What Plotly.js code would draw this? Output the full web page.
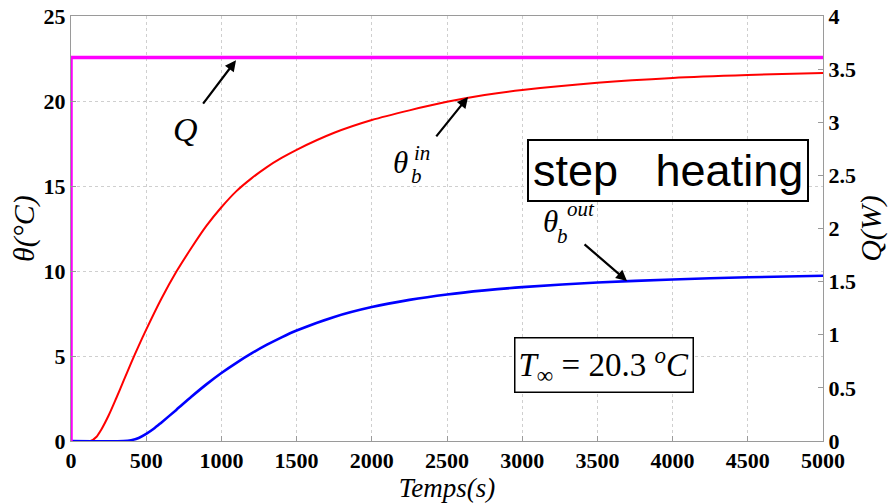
<!DOCTYPE html>
<html>
<head>
<meta charset="utf-8">
<script src="https://cdn.plot.ly/plotly-3.0.1.min.js"></script>
<style>html,body{margin:0;padding:0;background:#fff;}#chart{width:888px;height:504px;}</style>
</head>
<body>
<div id="chart"></div>
<script>
// Data
const time_in   = [0, 130, 170, 200, 250, 300, 350, 400, 450, 500, 600, 700, 800, 900, 1000, 1100, 1200, 1300, 1400, 1500, 1750, 2000, 2250, 2500, 2750, 3000, 3500, 4000, 4500, 5000];
const theta_in  = [0, 0, 0.25, 0.65, 1.5, 2.5, 3.55, 4.6, 5.6, 6.55, 8.35, 9.95, 11.35, 12.65, 13.75, 14.7, 15.45, 16.1, 16.65, 17.13, 18.13, 18.88, 19.45, 19.95, 20.35, 20.65, 21.08, 21.36, 21.53, 21.65];
const time_out  = [0, 350, 400, 450, 500, 550, 600, 700, 800, 900, 1000, 1100, 1200, 1300, 1400, 1500, 1750, 2000, 2250, 2500, 2750, 3000, 3500, 4000, 4500, 5000];
const theta_out = [0, 0, 0.05, 0.18, 0.42, 0.72, 1.08, 1.83, 2.6, 3.33, 4.0, 4.6, 5.15, 5.65, 6.1, 6.5, 7.3, 7.88, 8.3, 8.62, 8.86, 9.05, 9.32, 9.5, 9.63, 9.72];
const q_time    = [0, 0, 5000];
const q_value   = [0, 3.61, 3.61];
const x_ticks   = [0, 500, 1000, 1500, 2000, 2500, 3000, 3500, 4000, 4500, 5000];
const y_ticks   = [0, 5, 10, 15, 20, 25];
const q_ticks   = [0, 0.5, 1, 1.5, 2, 2.5, 3, 3.5, 4];

const SERIF = '"Times New Roman", "Liberation Serif", "DejaVu Serif", serif';
const tickFont = {family: SERIF, size: 22, color: '#000'};
const mathBig = {family: SERIF, size: 31, color: '#000', style: 'italic'};
const mathSmall = {family: SERIF, size: 21, color: '#000', style: 'italic'};
const bold = v => '<b>' + v + '</b>';

const traces = [
  {x: q_time, y: q_value, yaxis: 'y2', mode: 'lines', line: {color: '#ff00ff', width: 3.5}, cliponaxis: false, showlegend: false},
  {x: time_in, y: theta_in, mode: 'lines', line: {color: '#ff0000', width: 2, shape: 'spline', smoothing: 0.8}, showlegend: false},
  {x: time_out, y: theta_out, mode: 'lines', line: {color: '#0000ff', width: 2.6, shape: 'spline', smoothing: 0.8}, showlegend: false}
];

function ann(x, y, text, font) {
  return {x: x, y: y, xref: 'x', yref: 'y', text: text, showarrow: false, font: font};
}
function arrow(x, y, ax, ay) {
  return {x: x, y: y, xref: 'x', yref: 'y', text: '', showarrow: true, ax: ax, ay: ay,
          arrowhead: 2, arrowsize: 1, arrowwidth: 2.2, arrowcolor: '#000'};
}

const layout = {
  width: 888, height: 504,
  margin: {l: 71, r: 65, t: 16, b: 63},
  paper_bgcolor: '#fff', plot_bgcolor: '#fff',
  showlegend: false,
  xaxis: {
    range: [0, 5000], tickvals: x_ticks, ticktext: x_ticks.map(bold),
    showline: true, linecolor: '#9a9a9a', linewidth: 1, mirror: true,
    ticks: 'inside', ticklen: 5, tickcolor: '#9a9a9a',
    showgrid: true, gridcolor: '#cfcfcf', griddash: 'dot', gridwidth: 1,
    zeroline: false, tickfont: tickFont, ticklabelstandoff: 0,
    title: {text: 'Temps(s)', font: {family: SERIF, size: 27, style: 'italic', color: '#000'}, standoff: 2}
  },
  yaxis: {
    range: [0, 25], tickvals: y_ticks, ticktext: y_ticks.map(bold),
    showline: true, linecolor: '#9a9a9a', linewidth: 1,
    ticks: 'inside', ticklen: 5, tickcolor: '#9a9a9a',
    showgrid: true, gridcolor: '#cfcfcf', griddash: 'dot', gridwidth: 1,
    zeroline: false, tickfont: tickFont, ticklabelstandoff: 0,
    title: {text: 'θ(°C)', font: {family: SERIF, size: 30, style: 'italic', color: '#000'}, standoff: 0}
  },
  yaxis2: {
    range: [0, 4], tickvals: q_ticks, ticktext: q_ticks.map(bold), overlaying: 'y', side: 'right',
    showline: true, linecolor: '#9a9a9a', linewidth: 1,
    ticks: 'inside', ticklen: 5, tickcolor: '#9a9a9a',
    showgrid: false, zeroline: false, tickfont: tickFont, ticklabelstandoff: 0,
    title: {text: 'Q(W)', font: {family: SERIF, size: 30, style: 'italic', color: '#000'}, standoff: 8}
  },
  annotations: [
    arrow(1097, 22.4, -34, 45),
    arrow(2640, 20.24, -33, 41),
    arrow(3697, 9.41, -44, -38),
    ann(758, 18.3, 'Q', {family: SERIF, size: 34, style: 'italic', color: '#000'}),
    // theta_b^in
    ann(2194, 16.41, 'θ', mathBig),
    ann(2334, 16.94, 'in', mathSmall),
    ann(2294, 15.59, 'b', mathSmall),
    // theta_b^out
    ann(3185, 12.94, 'θ', mathBig),
    ann(3390, 13.65, 'out', mathSmall),
    ann(3271, 12.06, 'b', mathSmall),
    // boxes
    {x: 3969, y: 15.9, xref: 'x', yref: 'y', text: 'step\u00a0\u00a0\u00a0heating', showarrow: false,
     font: {family: '"Liberation Sans", Arial, sans-serif', size: 45, color: '#000'},
     bgcolor: '#fff', bordercolor: '#000', borderwidth: 2, borderpad: 4},
    {x: 3544, y: 4.5, xref: 'x', yref: 'y', text: '<i>T</i><sub>∞</sub> = 20.3 <sup><i>o</i></sup><i>C</i>', showarrow: false,
     font: {family: SERIF, size: 33, color: '#000'},
     bgcolor: '#fff', bordercolor: '#000', borderwidth: 1.5, borderpad: 3}
  ]
};

Plotly.newPlot('chart', traces, layout, {displayModeBar: false, staticPlot: true});
</script>
</body>
</html>
